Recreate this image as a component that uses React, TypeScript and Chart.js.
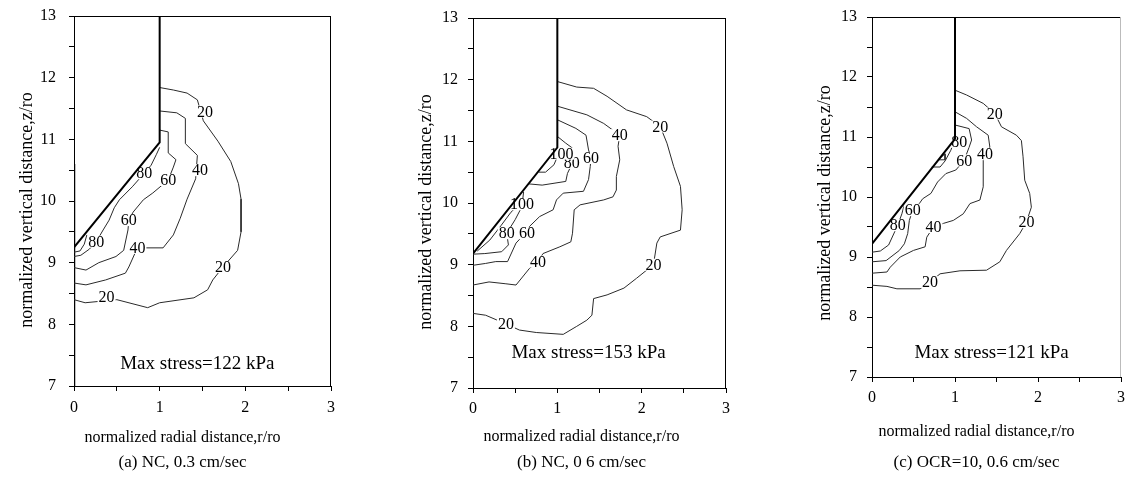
import React, { useEffect, useRef } from 'react';
import { Chart, registerables } from 'chart.js';

Chart.register(...registerables);

type P = [number, number];
type Lbl = [string, number, number];

const X_TICKS = [0, 1, 2, 3];
const Y_TICKS = [7, 8, 9, 10, 11, 12, 13];
const X_TITLE = 'normalized radial distance,r/ro';
const Y_TITLE = 'normalized vertical distance,z/ro';

// ---------- Panel (a) NC, 0.3 cm/sec ----------
const A_CONE: P[] = [[0, 9.25], [1, 10.95], [1, 13]];
const A_PILE: P[] = [[0, 7], [0, 10.6]];
const A_C20: P[] = [[1.0, 11.84], [1.16, 11.8], [1.32, 11.75], [1.44, 11.64], [1.51, 11.3], [1.68, 10.97], [1.83, 10.64], [1.92, 10.28], [1.95, 10.03], [1.95, 9.5], [1.91, 9.2], [1.74, 8.93], [1.62, 8.72], [1.56, 8.56], [1.4, 8.43], [1.0, 8.35], [0.86, 8.27], [0.5, 8.4], [0.13, 8.35], [0, 8.4]];
const A_C40: P[] = [[0, 8.67], [0.14, 8.64], [0.37, 8.72], [0.6, 8.83], [0.64, 8.93], [0.74, 9.24], [1.04, 9.24], [1.16, 9.45], [1.24, 9.72], [1.32, 10.03], [1.42, 10.36], [1.44, 10.74], [1.3, 10.93], [1.3, 11.34], [1.2, 11.43], [1.0, 11.46]];
const A_C60: P[] = [[0, 8.92], [0.14, 8.88], [0.29, 9.0], [0.49, 9.1], [0.58, 9.2], [0.63, 9.53], [0.64, 9.69], [0.69, 9.82], [0.81, 10.02], [0.92, 10.13], [1.1, 10.34], [1.16, 10.55], [1.19, 10.67], [1.1, 10.78], [1.1, 11.12], [1.0, 11.15]];
const A_C80: P[] = [[0, 9.1], [0.08, 9.12], [0.18, 9.22], [0.26, 9.34], [0.34, 9.53], [0.41, 9.69], [0.47, 9.89], [0.53, 10.02], [0.68, 10.23], [0.82, 10.45], [0.9, 10.58], [0.96, 10.75], [1.0, 10.87]];
const A_C100: P[] = [[0, 9.17], [0.07, 9.19], [0.12, 9.3], [0.15, 9.45]];
const A_LABELS: Lbl[] = [['20', 1.53, 11.45], ['20', 1.74, 8.93], ['20', 0.38, 8.45], ['40', 1.47, 10.5], ['40', 0.74, 9.24], ['60', 1.1, 10.34], ['60', 0.64, 9.69], ['80', 0.82, 10.45], ['80', 0.26, 9.34]];
const A_MAX = 'Max stress=122 kPa';
const A_MAX_POS: P = [1.44, 7.35];
const A_CAPTION = '(a) NC, 0.3 cm/sec';

// ---------- Panel (b) NC, 0.6 cm/sec ----------
const B_CONE: P[] = [[0, 9.18], [1, 10.9], [1, 13]];
const B_C20: P[] = [[0, 8.21], [0.15, 8.18], [0.39, 8.04], [0.55, 7.94], [0.75, 7.9], [1.07, 7.87], [1.23, 8.0], [1.35, 8.1], [1.41, 8.18], [1.43, 8.45], [1.59, 8.51], [1.79, 8.62], [1.94, 8.78], [2.14, 9.0], [2.18, 9.35], [2.22, 9.45], [2.46, 9.56], [2.48, 9.89], [2.46, 10.27], [2.38, 10.59], [2.3, 10.97], [2.22, 11.24], [2.06, 11.4], [1.82, 11.51], [1.59, 11.73], [1.43, 11.86], [1.23, 11.88], [1.0, 11.97]];
const B_C40: P[] = [[0, 8.67], [0.19, 8.72], [0.39, 8.69], [0.51, 8.67], [0.67, 8.94], [0.77, 9.05], [0.83, 9.18], [1.03, 9.29], [1.16, 9.37], [1.18, 9.51], [1.2, 9.89], [1.27, 9.97], [1.55, 10.05], [1.66, 10.1], [1.7, 10.21], [1.7, 10.43], [1.74, 10.7], [1.72, 10.92], [1.74, 11.1], [1.55, 11.29], [1.35, 11.43], [1.15, 11.51], [1.0, 11.57]];
const B_C60: P[] = [[0, 8.99], [0.15, 9.02], [0.27, 9.05], [0.41, 9.05], [0.51, 9.35], [0.62, 9.51], [0.67, 9.62], [0.79, 9.78], [0.95, 9.89], [0.99, 10.05], [1.07, 10.16], [1.31, 10.19], [1.37, 10.38], [1.39, 10.59], [1.4, 10.73], [1.37, 10.86], [1.34, 11.1], [1.22, 11.21], [1.0, 11.35]];
const B_C80_LOW: P[] = [[0, 9.17], [0.14, 9.18], [0.34, 9.21], [0.42, 9.32], [0.4, 9.51], [0.5, 9.73], [0.58, 9.94], [0.6, 10.18]];
const B_C80_UP: P[] = [[0.66, 10.31], [0.82, 10.29], [1.1, 10.35], [1.12, 10.48], [1.18, 10.65], [1.18, 10.89], [1.1, 10.97], [1.0, 11.08]];
const B_C100_LOW: P[] = [[0.05, 9.22], [0.2, 9.4], [0.33, 9.63], [0.45, 9.85], [0.54, 9.97]];
const B_C100_UP: P[] = [[0.78, 10.5], [0.86, 10.5], [0.96, 10.62], [1.0, 10.75]];
const B_LABELS: Lbl[] = [['20', 2.22, 11.24], ['20', 2.14, 9.0], ['20', 0.39, 8.04], ['40', 1.74, 11.1], ['40', 0.77, 9.05], ['60', 1.4, 10.73], ['60', 0.64, 9.51], ['80', 1.17, 10.65], ['80', 0.4, 9.51], ['100', 1.05, 10.8], ['100', 0.58, 9.98]];
const B_MAX = 'Max stress=153 kPa';
const B_MAX_POS: P = [1.37, 7.57];
const B_CAPTION = '(b) NC, 0 6 cm/sec';

// ---------- Panel (c) OCR=10, 0.6 cm/sec ----------
const C_CONE: P[] = [[0, 9.22], [1, 10.97], [1, 13]];
const C_C20: P[] = [[0, 8.53], [0.18, 8.51], [0.3, 8.47], [0.58, 8.47], [0.7, 8.58], [0.82, 8.72], [1.06, 8.77], [1.38, 8.78], [1.54, 8.92], [1.62, 9.11], [1.78, 9.39], [1.86, 9.58], [1.92, 9.83], [1.9, 10.06], [1.84, 10.28], [1.82, 10.67], [1.8, 10.94], [1.74, 11.03], [1.56, 11.17], [1.48, 11.39], [1.34, 11.56], [1.14, 11.7], [1.0, 11.78]];
const C_C40: P[] = [[0, 8.73], [0.18, 8.75], [0.22, 8.83], [0.34, 9.0], [0.5, 9.11], [0.64, 9.17], [0.66, 9.33], [0.74, 9.5], [0.86, 9.56], [0.98, 9.61], [1.1, 9.72], [1.18, 9.89], [1.3, 9.95], [1.34, 10.17], [1.34, 10.61], [1.36, 10.72], [1.42, 10.83], [1.4, 11.03], [1.26, 11.17], [1.14, 11.31], [1.0, 11.42]];
const C_C60: P[] = [[0, 8.92], [0.17, 8.94], [0.33, 9.11], [0.39, 9.22], [0.43, 9.39], [0.45, 9.61], [0.49, 9.78], [0.57, 9.89], [0.61, 9.97], [0.71, 10.06], [0.79, 10.25], [0.89, 10.39], [1.01, 10.45], [1.11, 10.61], [1.17, 10.83], [1.2, 10.95], [1.17, 11.14], [1.0, 11.2]];
const C_C80_LOW: P[] = [[0, 9.08], [0.1, 9.1], [0.2, 9.2], [0.25, 9.35], [0.31, 9.53], [0.36, 9.72], [0.39, 9.88]];
const C_C80_UP: P[] = [[0.72, 10.5], [0.82, 10.5], [0.88, 10.6], [0.95, 10.78], [1.0, 10.97]];
const C_C100: P[] = [[0.8, 10.62], [0.88, 10.72], [0.88, 10.62], [0.8, 10.62]];
const C_LABELS: Lbl[] = [['20', 1.48, 11.39], ['20', 1.86, 9.58], ['20', 0.7, 8.58], ['40', 1.36, 10.72], ['40', 0.74, 9.5], ['60', 1.11, 10.61], ['60', 0.49, 9.78], ['80', 1.05, 10.92], ['80', 0.31, 9.53]];
const C_MAX = 'Max stress=121 kPa';
const C_MAX_POS: P = [1.44, 7.4];
const C_CAPTION = '(c) OCR=10, 0.6 cm/sec';

const FONT = "'Liberation Serif', 'Times New Roman', serif";
const LINE = '#2a2a2a';

interface Spec {
  left: number;
  width: number;
  padLeft: number;
  padRight: number;
  padTop: number;
  xAxisH: number;
  xTickPad: number;
  yTickPad: number;
  xTitleY: number;
  captionY: number;
  yTitleDy: number;
  textShift: number;
  caption: string;
  cone: P[];
  thick: P[][];
  contours: P[][];
  labels: Lbl[];
  maxText: string;
  maxPos: P;
  rightColor: string;
}

const SPECS: Spec[] = [
  { left: 0, width: 390, padLeft: 14, padRight: 59, padTop: 16, xAxisH: 64, xTickPad: 7, yTickPad: 13, xTitleY: 438, captionY: 463, yTitleDy: 9, textShift: -20, caption: A_CAPTION, cone: A_CONE, thick: [A_PILE], contours: [A_C20, A_C40, A_C60, A_C80, A_C100], labels: A_LABELS, maxText: A_MAX, maxPos: A_MAX_POS, rightColor: '#000' },
  { left: 399, width: 390, padLeft: 14, padRight: 63, padTop: 18, xAxisH: 62, xTickPad: 6, yTickPad: 10, xTitleY: 437, captionY: 463, yTitleDy: 9, textShift: -18, caption: B_CAPTION, cone: B_CONE, thick: [], contours: [B_C20, B_C40, B_C60, B_C80_LOW, B_C80_UP, B_C100_LOW, B_C100_UP], labels: B_LABELS, maxText: B_MAX, maxPos: B_MAX_POS, rightColor: '#000' },
  { left: 798, width: 329, padLeft: 14, padRight: 6, padTop: 17, xAxisH: 73, xTickPad: 6, yTickPad: 10, xTitleY: 432, captionY: 463, yTitleDy: 6, textShift: -20, caption: C_CAPTION, cone: C_CONE, thick: [], contours: [C_C20, C_C40, C_C60, C_C80_LOW, C_C80_UP, C_C100], labels: C_LABELS, maxText: C_MAX, maxPos: C_MAX_POS, rightColor: '#bbb' },
];

const toXY = (pts: P[]) => pts.map(([x, y]) => ({ x, y }));

function Panel({ spec }: { spec: Spec }) {
  const ref = useRef<HTMLCanvasElement>(null);
  useEffect(() => {
    const canvas = ref.current;
    if (!canvas) return;
    const datasets: any[] = [];
    spec.contours.forEach((c) => datasets.push({ label: 'contour', data: toXY(c), showLine: true, borderColor: LINE, borderWidth: 1, pointRadius: 0, tension: 0, fill: false, order: 1 }));
    spec.thick.forEach((c) => datasets.push({ label: 'pile', data: toXY(c), showLine: true, borderColor: '#000', borderWidth: 2.5, pointRadius: 0, tension: 0, fill: false, order: 1 }));
    datasets.push({ label: 'cone', data: toXY(spec.cone), showLine: true, borderColor: '#000', borderWidth: 2, pointRadius: 0, tension: 0, fill: false, order: 0 });

    const textPlugin = {
      id: 'contourText',
      beforeDatasetDraw(chart: any, args: any) {
        if (chart.data.datasets[args.index].label !== 'cone') return;
        const ctx = chart.ctx;
        const xs = chart.scales.x;
        const ys = chart.scales.y;
        ctx.save();
        ctx.font = `16px ${FONT}`;
        ctx.textAlign = 'center';
        ctx.textBaseline = 'middle';
        for (const [t, r, z] of spec.labels) {
          const px = xs.getPixelForValue(r);
          const py = ys.getPixelForValue(z);
          const w = ctx.measureText(t).width;
          ctx.fillStyle = '#fff';
          ctx.fillRect(px - w / 2 - 1, py - 6, w + 2, 12);
          ctx.fillStyle = '#000';
          ctx.fillText(t, px, py + 1);
        }
        ctx.restore();
      },
      afterDraw(chart: any) {
        const { ctx, chartArea: a } = chart;
        const xs = chart.scales.x;
        const ys = chart.scales.y;
        ctx.save();
        ctx.lineWidth = 1;
        ctx.strokeStyle = '#000';
        ctx.beginPath();
        ctx.moveTo(a.left, Math.round(a.top) + 0.5);
        ctx.lineTo(a.right, Math.round(a.top) + 0.5);
        ctx.stroke();
        ctx.strokeStyle = spec.rightColor;
        ctx.beginPath();
        ctx.moveTo(Math.round(a.right) - 0.5, a.top);
        ctx.lineTo(Math.round(a.right) - 0.5, a.bottom);
        ctx.stroke();
        ctx.fillStyle = '#000';
        ctx.textAlign = 'center';
        ctx.textBaseline = 'middle';
        ctx.font = `19px ${FONT}`;
        ctx.fillText(spec.maxText, xs.getPixelForValue(spec.maxPos[0]), ys.getPixelForValue(spec.maxPos[1]));
        const cx = (a.left + a.right) / 2 + spec.textShift;
        ctx.font = `16px ${FONT}`;
        ctx.fillText(X_TITLE, cx, spec.xTitleY);
        ctx.font = `17px ${FONT}`;
        ctx.fillText(spec.caption, cx, spec.captionY);
        // y-axis title
        ctx.save();
        ctx.translate(a.left - 47, (a.top + a.bottom) / 2 + spec.yTitleDy);
        ctx.rotate(-Math.PI / 2);
        ctx.font = `18px ${FONT}`;
        ctx.fillText(Y_TITLE, 0, 0);
        ctx.restore();
        ctx.restore();
      },
    };

    const tickFont = { family: FONT, size: 16 };
    const chart = new Chart(canvas, {
      type: 'scatter',
      data: { datasets },
      options: {
        responsive: false,
        animation: false,
        events: [],
        layout: { autoPadding: false, padding: { left: spec.padLeft, right: spec.padRight, top: spec.padTop, bottom: 494 - 450 } },
        plugins: { legend: { display: false }, tooltip: { enabled: false }, title: { display: false } },
        scales: {
          x: {
            type: 'linear', min: 0, max: 3,
            afterFit: (s: any) => { s.height = spec.xAxisH; s.paddingLeft = 0; s.paddingRight = 0; },
            ticks: { stepSize: 0.5, autoSkip: false, maxRotation: 0, color: '#000', font: tickFont, padding: spec.xTickPad, callback: (v: any) => (X_TICKS.includes(v) ? String(v) : '') },
            grid: { drawOnChartArea: false, drawTicks: true, tickLength: 5, color: '#000' },
            border: { display: true, color: '#000', width: 1 },
          },
          y: {
            type: 'linear', min: 7, max: 13,
            afterFit: (s: any) => { s.width = 60; s.paddingTop = 0; s.paddingBottom = 0; },
            ticks: { stepSize: 0.5, autoSkip: false, color: '#000', font: tickFont, padding: spec.yTickPad, callback: (v: any) => (Y_TICKS.includes(v) ? String(v) : '') },
            grid: { drawOnChartArea: false, drawTicks: true, tickLength: 5, color: '#000' },
            border: { display: true, color: '#000', width: 1 },
          },
        },
      },
      plugins: [textPlugin],
    } as any);
    return () => chart.destroy();
  }, [spec]);
  return (
    <canvas
      ref={ref}
      width={spec.width}
      height={494}
      style={{ position: 'absolute', left: spec.left, top: 0, width: spec.width, height: 494 }}
    />
  );
}

export default function App() {
  return (
    <div style={{ position: 'absolute', left: 0, top: 0, width: 1127, height: 494, background: '#fff', overflow: 'hidden' }}>
      {SPECS.map((s, i) => (
        <Panel key={i} spec={s} />
      ))}
    </div>
  );
}
